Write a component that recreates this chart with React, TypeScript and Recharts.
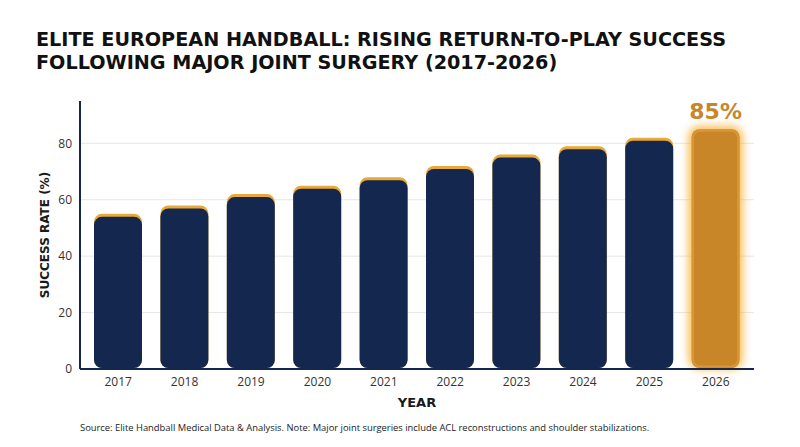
import React from "react";
import { BarChart, Bar, XAxis, YAxis, CartesianGrid, LabelList } from "recharts";

const years = ["2017", "2018", "2019", "2020", "2021", "2022", "2023", "2024", "2025", "2026"];
const successRates = [55, 58, 62, 65, 68, 72, 76, 79, 82, 85];
const yTicks = [0, 20, 40, 60, 80];
const gridValues = [20, 40, 60, 80];
const highlightYear = "2026";

const data = years.map((y, i) => ({ year: y, rate: successRates[i] }));

const NAVY = "#14274E";
const GOLD = "#E8A83A";
const ORANGE = "#C98629";
const GLOW = "#F4B33A";
const FONT = "'Open Sans', 'DejaVu Sans', sans-serif";
const TITLE_FONT = "'DejaVu Sans', sans-serif";

const BarShape = (props: any) => {
  const { x, y, width, height, payload } = props;
  if (!height || height <= 0) return null;
  const r = 8;
  if (payload.year === highlightYear) {
    return (
      <g>
        <defs>
          <filter id="glow" x="-50%" y="-50%" width="200%" height="200%">
            <feGaussianBlur stdDeviation="4" />
          </filter>
        </defs>
        <rect x={x - 3} y={y - 3} width={width + 6} height={height + 3} rx={r + 3} fill={GLOW} opacity={0.9} filter="url(#glow)" />
        <rect x={x} y={y} width={width} height={height - 1} rx={r} fill={ORANGE} />
        <rect x={x + 1.5} y={y + 1.5} width={width - 3} height={height - 4} rx={r - 1} fill="none" stroke="#E6A23A" strokeWidth={2} opacity={0.6} />
      </g>
    );
  }
  return (
    <g>
      <rect x={x} y={y} width={width} height={height - 1} rx={r} fill={GOLD} />
      <rect x={x} y={y + 3} width={width} height={height - 4} rx={r} fill={NAVY} />
    </g>
  );
};

const renderTopLabel = (props: any) => {
  const { x, y, width, value, index } = props;
  if (years[index] !== highlightYear) return null;
  return (
    <text x={x + width / 2} y={y - 10} textAnchor="middle" fill="#C98629" fontSize={22} fontWeight={700} fontFamily={TITLE_FONT}>
      {value}%
    </text>
  );
};

const YLabel = (props: any) => {
  const vb = props.viewBox;
  const cx = 45;
  const cy = vb.y + vb.height / 2;
  return (
    <text x={cx} y={cy} transform={`rotate(-90, ${cx}, ${cy})`} textAnchor="middle" dominantBaseline="central" fill="#1a1a1a" fontSize={12} fontWeight={700} fontFamily={TITLE_FONT}>
      SUCCESS RATE (%)
    </text>
  );
};

const XLabel = (props: any) => {
  const vb = props.viewBox;
  return (
    <text x={vb.x + vb.width / 2} y={402} textAnchor="middle" dominantBaseline="central" fill="#1a1a1a" fontSize={13} fontWeight={700} fontFamily={TITLE_FONT}>
      YEAR
    </text>
  );
};

export default function App() {
  return (
    <div style={{ position: "absolute", left: 0, top: 0, width: 800, height: 447, background: "#fff", overflow: "hidden" }}>
      <div style={{ position: "absolute", left: 36, top: 28, fontFamily: TITLE_FONT, fontWeight: 700, fontSize: 19.2, lineHeight: "23px", color: "#111" }}>
        <div>ELITE EUROPEAN HANDBALL: RISING RETURN-TO-PLAY SUCCESS</div>
        <div>FOLLOWING MAJOR JOINT SURGERY (2017-2026)</div>
      </div>
      <div style={{ position: "absolute", left: 0, top: 0 }}>
        <BarChart width={800} height={447} data={data} margin={{ top: 101, right: 46, bottom: 48, left: 0 }} barSize={48}>
          <CartesianGrid vertical={false} stroke="#e6e6e6" strokeWidth={1} horizontalValues={gridValues} />
          <XAxis
            dataKey="year"
            tickLine={false}
            axisLine={{ stroke: NAVY, strokeWidth: 2 }}
            tick={{ fill: "#333", fontSize: 12, fontFamily: FONT }}
            padding={{ left: 5, right: 5 }}
            height={30}
            label={<XLabel />}
          />
          <YAxis
            domain={[0, 95]}
            ticks={yTicks}
            width={80}
            tickLine={false}
            axisLine={{ stroke: NAVY, strokeWidth: 2 }}
            tick={{ fill: "#333", fontSize: 12, fontFamily: FONT }}
            label={<YLabel />}
          />
          <Bar dataKey="rate" shape={<BarShape />} isAnimationActive={false}>
            <LabelList dataKey="rate" content={renderTopLabel} />
          </Bar>
        </BarChart>
      </div>
      <div style={{ position: "absolute", left: 80, top: 421, fontFamily: FONT, fontSize: 9.4, color: "#222", whiteSpace: "nowrap" }}>
        Source: Elite Handball Medical Data &amp; Analysis. Note: Major joint surgeries include ACL reconstructions and shoulder stabilizations.
      </div>
    </div>
  );
}
